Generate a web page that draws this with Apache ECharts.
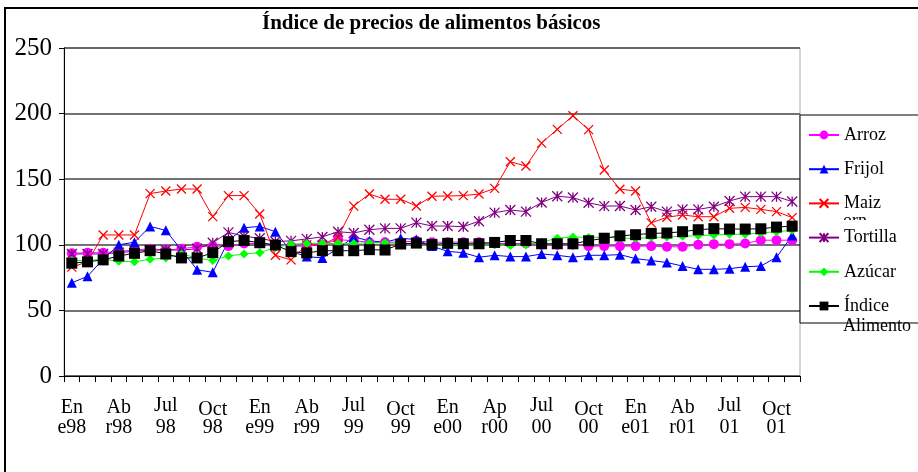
<!DOCTYPE html>
<html>
<head>
<meta charset="utf-8">
<script src="https://cdn.jsdelivr.net/npm/echarts@6/dist/echarts.min.js"></script>
<style>
  html, body { margin: 0; padding: 0; background: #fff; }
  #chart { width: 918px; height: 472px; }
</style>
</head>
<body>
<div id="chart"></div>
<script>
// months Jan 1998 - Nov 2001
const meses = [
  'Ene98','Feb98','Mar98','Abr98','May98','Jun98','Jul98','Ago98','Sep98','Oct98','Nov98','Dic98',
  'Ene99','Feb99','Mar99','Abr99','May99','Jun99','Jul99','Ago99','Sep99','Oct99','Nov99','Dic99',
  'Ene00','Feb00','Mar00','Abr00','May00','Jun00','Jul00','Ago00','Sep00','Oct00','Nov00','Dic00',
  'Ene01','Feb01','Mar01','Abr01','May01','Jun01','Jul01','Ago01','Sep01','Oct01','Nov01'
];

// labels shown every 3 months
const tickLabels = [
  'En\ne98','Ab\nr98','Jul\n98','Oct\n98',
  'En\ne99','Ab\nr99','Jul\n99','Oct\n99',
  'En\ne00','Ap\nr00','Jul\n00','Oct\n00',
  'En\ne01','Ab\nr01','Jul\n01','Oct\n01'
];

const yTicks = [0, 50, 100, 150, 200, 250];

const arroz = [93.5, 94, 94, 95, 96, 97, 96, 97, 98.5, 99, 99, 101,
  101, 100, 99, 99, 100, 104, 103, 102, 102, 102, 103, 102,
  102, 102, 102, 101, 101, 101, 100, 100, 100, 99, 99, 99,
  99, 99, 98.5, 98.5, 100, 100.5, 100.5, 101, 103.5, 103.5, 103.5];

const frijol = [71, 76, 89, 100, 102, 114, 111, 96, 81, 79, 103, 113,
  114, 110, 95, 91, 90, 97, 106, 103, 102, 105, 104, 99,
  95, 94, 90.5, 92, 91, 91, 93, 92, 90.5, 92, 92, 92.5,
  89.5, 88, 86.5, 83.8, 81.3, 81.3, 81.8, 83.3, 83.8, 90.5, 107];

const maiz = [83, 87, 107.5, 107.5, 107.5, 139, 141, 142.5, 142.5, 121.5, 137.5, 137.5,
  123.5, 92, 88.5, 100, 100, 106, 129.5, 138.7, 134.7, 134.7, 129.6, 137,
  137.2, 137.5, 138.7, 143, 163.3, 160, 177.5, 188, 198.3, 187.8, 157, 142.4,
  141, 116.7, 121, 122.7, 121.4, 121.4, 127.8, 128.5, 127, 125.3, 120.7];

const tortilla = [93, 93, 93, 94, 95, 96, 96, 96, 97, 101.5, 109.5, 106.5,
  105, 102.5, 103, 104.5, 106, 110, 109, 111.5, 112.5, 112.5, 116.9, 114.3,
  114.3, 113.8, 118, 124.5, 126.5, 125.3, 132.3, 137, 136, 132, 129.5, 129.6,
  126.5, 129, 125.3, 127, 127, 129, 133.4, 136.7, 136.7, 136.7, 133];

const azucar = [88, 88, 89, 87.5, 87, 89, 90, 93, 90, 88, 91.5, 93,
  94, 98, 100.5, 101, 101, 101, 101, 101.5, 101.5, 101, 101, 100.5,
  100, 100, 100, 100, 99.5, 100, 102, 105, 106, 105.5, 106, 105,
  105, 105.5, 106, 106.5, 107, 107.5, 108, 108, 109, 110, 111];

const indice = [86, 87, 88.5, 91.5, 93.5, 95.5, 93, 90, 90, 94, 102.4, 103.3,
  101.6, 99.8, 94.8, 93.8, 95.5, 95.5, 95.5, 96.3, 96, 100.6, 101.3, 100.3,
  101.1, 100.8, 100.8, 101.8, 103.3, 103.3, 100.8, 100.8, 100.8, 103.1, 105, 106.8,
  107.7, 108.7, 109, 110, 111.5, 112.3, 112, 112, 112.2, 113.5, 114.2];

const FONT = '"Liberation Serif", "Times New Roman", serif';

const crossPath = 'path://M0,0L10,10M10,0L0,10';
const starPath = 'path://M0,0L10,10M10,0L0,10M5,0L5,10';

const makeSeries = (name, data, color, symbol, size, strokeOnly) => ({
  name: name,
  type: 'line',
  data: data,
  symbol: symbol,
  symbolSize: size,
  showSymbol: true,
  showAllSymbol: true,
  lineStyle: { color: color, width: 1 },
  itemStyle: strokeOnly
    ? { color: color, borderColor: color, borderWidth: 1.3 }
    : { color: color, borderWidth: 0 },
  emphasis: { disabled: true }
});

const lineRich = {
  a: { fontFamily: FONT, fontSize: 20, lineHeight: 22, color: '#000', padding: [4, 0, 0, 0] },
  j: { fontFamily: FONT, fontSize: 20, lineHeight: 22, color: '#000', padding: [0, 0, 0, 0] },
  o: { fontFamily: FONT, fontSize: 20, lineHeight: 22, color: '#000', padding: [8, 0, 0, 0] },
  n: { fontFamily: FONT, fontSize: 20, lineHeight: 22, color: '#000' }
};

const chart = echarts.init(document.getElementById('chart'));

const option = {
  animation: false,
  backgroundColor: '#fff',
  textStyle: { fontFamily: FONT },
  title: {
    text: 'Índice de precios de alimentos básicos',
    left: 262,
    top: 13,
    padding: 0,
    textStyle: { fontFamily: FONT, fontSize: 21, fontWeight: 'bold', color: '#000' }
  },
  grid: {
    left: 64,
    right: 118,
    top: 48,
    bottom: 96,
    show: true,
    borderColor: '#aaa',
    borderWidth: 1,
    containLabel: false
  },
  legend: {
    orient: 'vertical',
    left: 808,
    top: 126,
    padding: 0,
    itemWidth: 30,
    itemHeight: 11,
    itemGap: 16.2,
    textStyle: { fontFamily: FONT, fontSize: 18, color: '#000' },
    data: ['Arroz', 'Frijol', 'Maiz', 'Tortilla', 'Azúcar', 'Índice']
  },
  xAxis: {
    type: 'category',
    data: meses,
    boundaryGap: true,
    axisLine: { lineStyle: { color: '#000', width: 1 } },
    axisTick: { show: true, interval: 0, length: 6, lineStyle: { color: '#000' } },
    axisLabel: {
      interval: 2,
      margin: 19,
      formatter: (value, index) => {
        const parts = tickLabels[index / 3].split('\n');
        const s = parts[0] === 'Jul' ? 'j' : (parts[0] === 'Oct' ? 'o' : 'a');
        return '{' + s + '|' + parts[0] + '}\n{n|' + parts[1] + '}';
      },
      rich: lineRich
    },
    splitLine: { show: false }
  },
  yAxis: {
    type: 'value',
    min: yTicks[0],
    max: yTicks[yTicks.length - 1],
    interval: 50,
    axisLine: { show: true, lineStyle: { color: '#000', width: 1 } },
    axisTick: { show: true, length: 5, lineStyle: { color: '#000' } },
    axisLabel: { fontFamily: FONT, fontSize: 25, color: '#000', margin: 12 },
    splitLine: { lineStyle: { color: '#444', width: 1.5 } }
  },
  series: [
    makeSeries('Arroz', arroz, '#ff00ff', 'circle', 10, false),
    makeSeries('Frijol', frijol, '#0000ff', 'triangle', 10, false),
    makeSeries('Maiz', maiz, '#ff0000', crossPath, 9, true),
    makeSeries('Tortilla', tortilla, '#800080', starPath, 10, true),
    makeSeries('Azúcar', azucar, '#00ff00', 'diamond', 9, false),
    makeSeries('Índice', indice, '#000000', 'rect', 11, false)
  ],
  graphic: [
    // outer chart frame
    {
      type: 'rect', z: 0,
      shape: { x: 5, y: 8, width: 940, height: 480 },
      style: { fill: 'none', stroke: '#000', lineWidth: 2 }
    },
    // legend box
    {
      type: 'rect', z: 1,
      shape: { x: 800, y: 115, width: 140, height: 208 },
      style: { fill: '#fff', stroke: '#000', lineWidth: 1 }
    },
    // clipped second line of "Maiz" entry
    {
      type: 'text', z: 2, x: 843, y: 212,
      style: { text: 'orn', font: '18px ' + FONT, fill: '#000' }
    },
    {
      type: 'rect', z: 2,
      shape: { x: 841, y: 220, width: 60, height: 8 },
      style: { fill: '#fff' }
    },
    // second line of "Índice Alimento" entry
    {
      type: 'text', z: 5, x: 843, y: 317,
      style: { text: 'Alimento', font: '18px ' + FONT, fill: '#000' }
    }
  ]
};

chart.setOption(option);
</script>
</body>
</html>
